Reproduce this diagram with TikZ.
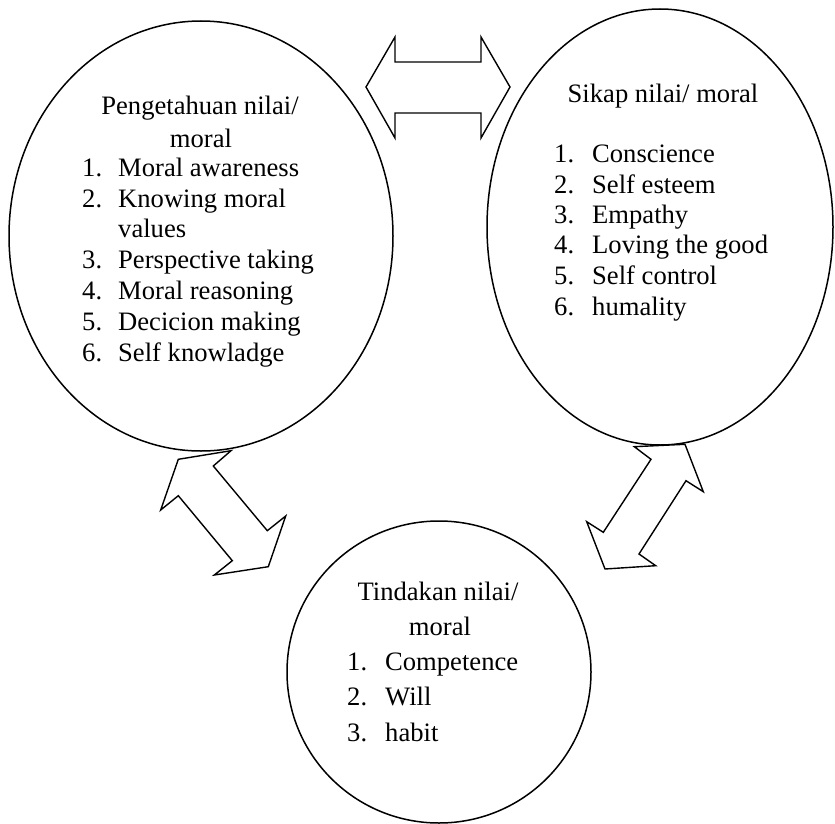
\documentclass[tikz,border=0pt]{standalone}
\usepackage{fontspec}
\setmainfont{Liberation Serif}
\usetikzlibrary{shapes.geometric}
\begin{document}
\begin{tikzpicture}[x=1pt,y=-1pt,
  bubble/.style={draw,line width=1.5pt,ellipse,inner sep=0pt},
  txt/.style={inner sep=0pt,font=\fontsize{26.6}{31}\selectfont},
  num/.style={txt,anchor=base west},
  ttl/.style={txt,anchor=base},
  blockarrow/.style={draw,fill=white,line width=1.4pt,line join=miter}]
\useasboundingbox (0,0) rectangle (835,824);
% ellipses
\node[bubble,minimum width=384pt,minimum height=430pt] (know) at (201,236) {};
\node[bubble,minimum width=346pt,minimum height=436pt] (feel) at (660,227) {};
\node[bubble,minimum width=304pt,minimum height=302pt] (act) at (439,672) {};
% left text
\node[ttl] (kt1) at (200,115) {Pengetahuan nilai/};
\node[ttl] (kt2) at (201,147) {moral};
\foreach \n/\t/\y in {1/Moral awareness/176,2/Knowing moral/207,3/Perspective taking/268,4/Moral reasoning/299,5/Decicion making/330,6/Self knowladge/361}{
  \node[num] (kn\n) at (82,\y) {\n.};
  \node[num] (ki\n) at (118,\y) {\t};
}
\node[num] (ki2b) at (118,237) {values};
% right text
\node[ttl] (ft1) at (663,103) {Sikap nilai/ moral};
\foreach \n/\t/\y in {1/Conscience/162,2/Self esteem/193,3/Empathy/223,4/Loving the good/253,5/Self control/284,6/humality/315}{
  \node[num] (fn\n) at (554,\y) {\n.};
  \node[num] (fi\n) at (592,\y) {\t};
}
% bottom text
\node[ttl] (at1) at (438,600) {Tindakan nilai/};
\node[ttl] (at2) at (440,635) {moral};
\foreach \n/\t/\y in {1/Competence/670,2/Will/705,3/habit/741}{
  \node[num] (an\n) at (347,\y) {\n.};
  \node[num] (ai\n) at (385,\y) {\t};
}
% double block arrows
\draw[blockarrow] (366,87) -- (395,37) -- (395,62) -- (481,62) -- (481,37) -- (510,87)
  -- (481,138) -- (481,113) -- (395,113) -- (395,138) -- cycle;
\draw[blockarrow] (231,450.7) -- (213.3,466) -- (267.3,530.7) -- (285.7,516) -- (268.3,566.7)
  -- (214.3,575) -- (232.3,560.7) -- (178.3,495.7) -- (160.7,510) -- (178.3,459.3) -- cycle;
\draw[blockarrow] (634.3,446.7) -- (651,459.3) -- (603.3,532.3) -- (586.7,521.7) -- (605,569)
  -- (655.7,565.7) -- (639,554) -- (686,480.7) -- (703.3,491.7) -- (685,444.3) -- cycle;
\end{tikzpicture}
\end{document}
